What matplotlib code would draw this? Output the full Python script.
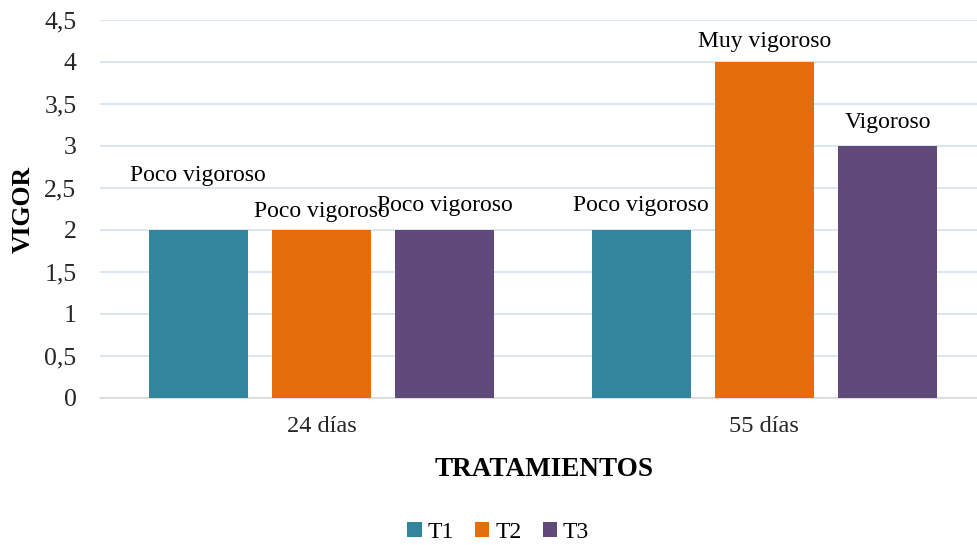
import numpy as np
import matplotlib.pyplot as plt

plt.rcParams['font.family'] = 'serif'
plt.rcParams['font.serif'] = ['Liberation Serif', 'DejaVu Serif']

categorias = ['24 días', '55 días']
series = ['T1', 'T2', 'T3']
valores = {
    'T1': [2, 2],
    'T2': [2, 4],
    'T3': [2, 3],
}
etiquetas = {
    'T1': ['Poco vigoroso', 'Poco vigoroso'],
    'T2': ['Poco vigoroso', 'Muy vigoroso'],
    'T3': ['Poco vigoroso', 'Vigoroso'],
}
colores = {'T1': '#31859C', 'T2': '#E46C0A', 'T3': '#604A7B'}
# desplazamiento vertical del centro de cada etiqueta (puntos)
offsets = {'T1': [39, 18], 'T2': [13, 15], 'T3': [18, 17]}

fig = plt.figure(figsize=(9.77, 5.45), dpi=100)
ax = fig.add_axes([100 / 977, 1 - 398 / 545, 877 / 977, 378 / 545])

x = np.arange(len(categorias))
ancho = 0.2235
paso = 0.278

for i, s in enumerate(series):
    pos = x + (i - 1) * paso
    ax.bar(pos, valores[s], width=ancho, color=colores[s], label=s, zorder=3)
    for j, v in enumerate(valores[s]):
        ax.annotate(etiquetas[s][j], (pos[j], v), xytext=(0, offsets[s][j]),
                    textcoords='offset points', ha='center', va='center',
                    fontsize=17, color='black', zorder=4)

ax.set_xlim(-0.5, 1.48)
ax.set_ylim(0, 4.5)
ax.set_yticks(np.arange(0, 4.51, 0.5))
ax.set_yticklabels([('%g' % t).replace('.', ',') for t in np.arange(0, 4.51, 0.5)])
ax.set_xticks(x)
ax.set_xticklabels(categorias)
ax.yaxis.grid(True, color='#d6e0f0', linewidth=1.2, zorder=0)
ax.set_axisbelow(True)
for lado in ['top', 'right', 'left']:
    ax.spines[lado].set_visible(False)
ax.spines['bottom'].set_color('#d9d9d9')
ax.spines['bottom'].set_linewidth(1.2)
ax.tick_params(axis='both', length=0, colors='#262626')
ax.tick_params(axis='x', pad=13, labelsize=17.5)
ax.tick_params(axis='y', pad=17, labelsize=18.5)

ax.set_ylabel('VIGOR', fontsize=18.5, fontweight='bold', labelpad=7)
ax.set_xlabel('TRATAMIENTOS', fontsize=19.5, fontweight='bold', labelpad=11)
ax.xaxis.set_label_coords(0.506, -0.155)

fig.legend(loc='lower center', bbox_to_anchor=(0.51, -0.035), ncol=3,
           frameon=False, fontsize=17, handlelength=0.6, handleheight=0.6,
           handletextpad=0.25, columnspacing=0.9)

fig.savefig('out.png', dpi=100)
